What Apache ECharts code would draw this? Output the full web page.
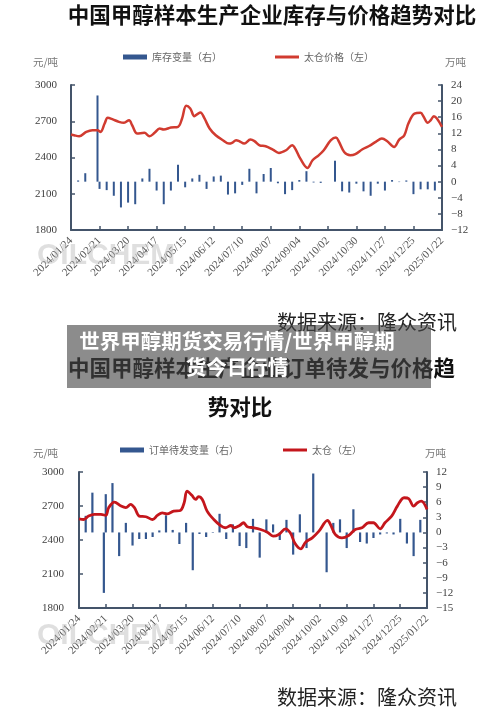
<!DOCTYPE html>
<html><head><meta charset="utf-8">
<script src="https://cdn.jsdelivr.net/npm/echarts@6/dist/echarts.min.js"></script>
<style>html,body{margin:0;padding:0;background:#fff}#c{width:500px;height:713px}</style>
</head><body><div id="c"></div>
<script>
// ---------- data (x = days since 2024/01/24) ----------
const startDate = [2024, 0, 24];
const axisMaxDay = 364, tickDays = 28;

const title1 = '中国甲醇样本生产企业库存与价格趋势对比';
const title2a = '中国甲醇样本生产企业订单待发与价格趋';
const title2b = '势对比';
const sourceText = '数据来源：隆众资讯';
const overlayLine1 = '世界甲醇期货交易行情/世界甲醇期';
const overlayLine2 = '货今日行情';

const stockName = '库存变量（右）';
const price1Name = '太仓价格（左）';
const orderName = '订单待发变量（右）';
const price2Name = '太仓（左）';

const weekDays = [7,14,26,28,35,42,49,56,63,70,77,84,91,98,105,112,119,126,133,140,147,154,161,168,175,182,189,196,203,210,217,224,231,238,245,259,266,273,280,287,294,301,308,315,322,329,336,343,350,357];
const stockChange = [0.3,2.1,21.4,-1.8,-2.1,-3.5,-6.4,-5.2,-5.6,0.8,3.2,-2.2,-5.6,-2.2,4.2,-1.4,0.8,1.7,-1.8,1.3,1.5,-3.2,-2.9,-0.8,3.2,-2.9,1.9,3.4,-0.4,-3.1,-2.1,0.4,2.6,-0.2,-0.3,5.2,-2.4,-2.7,-0.5,-2.4,-3.5,-0.5,-2.2,0.4,-0.1,0.3,-3.1,-1.9,-1.9,-2.2];
const orderChange = [3.3,7.9,-12.0,7.6,9.8,-4.7,1.9,-2.6,-1.3,-1.3,-0.9,0.4,3.4,0.5,-2.3,1.9,-7.5,-0.3,-0.9,-0.1,3.7,-1.3,1.6,-2.7,-3.1,2.7,-5.0,2.6,1.6,-1.5,2.5,-4.4,3.6,-3.1,11.7,-7.9,1.9,2.6,-3.1,4.6,-1.9,-2.2,-1.1,-0.4,-0.2,-0.4,2.7,-2.2,-4.7,2.5];

const price1Days = [0,3,8,15,21,26,29,33,36,41,47,52,57,60,65,72,77,82,87,91,98,105,109,113,117,121,124,127,131,136,142,149,155,158,162,165,170,176,180,185,191,198,204,211,217,220,225,232,237,243,248,255,260,263,268,274,279,286,292,299,305,310,317,322,327,331,337,343,346,350,353,356,359,364];
const price1 = [2590,2584,2576,2612,2626,2626,2612,2681,2728,2715,2695,2687,2709,2667,2598,2604,2576,2604,2640,2631,2648,2654,2723,2828,2806,2742,2759,2773,2723,2640,2584,2543,2515,2521,2543,2535,2515,2548,2535,2501,2493,2465,2438,2460,2501,2474,2390,2313,2377,2418,2460,2543,2565,2529,2446,2418,2427,2468,2493,2529,2557,2537,2487,2548,2584,2681,2764,2770,2737,2687,2709,2742,2723,2654];

const price2Days = [0,5,10,16,23,28,31,37,44,49,54,58,63,70,77,82,87,92,99,106,110,113,118,122,125,129,134,141,148,153,159,162,168,172,176,183,190,197,203,209,216,221,226,232,237,244,251,260,263,268,275,282,289,296,303,308,315,320,327,333,340,345,350,354,358,364];
const price2 = [2587,2581,2611,2626,2626,2617,2685,2735,2699,2685,2714,2685,2611,2605,2581,2617,2640,2631,2655,2661,2729,2832,2794,2758,2782,2758,2655,2581,2528,2508,2528,2508,2528,2552,2517,2508,2493,2469,2434,2449,2499,2463,2369,2322,2381,2419,2478,2573,2537,2449,2419,2440,2493,2508,2552,2552,2499,2552,2611,2699,2773,2764,2699,2729,2743,2670];

const leftTicks = {min: 1800, max: 3000, interval: 300};
const right1Ticks = {min: -12, max: 24, interval: 4};
const right2Ticks = {min: -15, max: 12, interval: 3};

// ---------- helpers ----------
const pair = (xs, ys) => xs.map((x, i) => [x, ys[i]]);
const pad = n => String(n).padStart(2, '0');
function fmtDate(v) {
  const t = new Date(Date.UTC(startDate[0], startDate[1], startDate[2]) + v * 86400000);
  return t.getUTCFullYear() + '/' + pad(t.getUTCMonth() + 1) + '/' + pad(t.getUTCDate());
}
const minus = v => String(v).replace('-', '−');
const axisColor = '#44546a';
const serif = 'Liberation Serif';
const cjk = 'Noto Sans CJK SC';

function xAx(g) {
  return {type: 'value', gridIndex: g, min: 0, max: axisMaxDay, interval: tickDays,
    axisLine: {show: true, onZero: false, lineStyle: {color: axisColor, width: 2}},
    axisTick: {show: true, inside: true, length: 4, lineStyle: {color: axisColor, width: 1.5}},
    splitLine: {show: false},
    axisLabel: {rotate: 45, margin: 9, fontFamily: serif, fontSize: 11, color: '#555', formatter: fmtDate, showMinLabel: true, showMaxLabel: true}};
}
function yAx(g, t, pos, margin) {
  return {type: 'value', gridIndex: g, position: pos, min: t.min, max: t.max, interval: t.interval,
    axisLine: {show: true, onZero: false, lineStyle: {color: axisColor, width: 2}},
    axisTick: {show: true, inside: true, length: 4, lineStyle: {color: axisColor, width: 1.5}},
    splitLine: {show: false},
    axisLabel: {margin: margin, fontFamily: serif, fontSize: 11, color: '#404040', formatter: minus}};
}
function legend(name, left, top, icon, h) {
  return {data: [name], left: left, top: top, padding: 0, icon: icon, itemWidth: 24, itemHeight: h,
    textStyle: {fontFamily: cjk, fontSize: 10, color: '#666'}, selectedMode: false};
}
function txt(text, x, y, size, opt) {
  return Object.assign({type: 'text', x: x, y: y, z: 10,
    style: Object.assign({text: text, fontFamily: cjk, fontSize: size, fill: '#111', textVerticalAlign: 'middle', textAlign: 'left'}, opt || {})});
}

const chart = echarts.init(document.getElementById('c'), null, {renderer: 'canvas'});
chart.setOption({
  animation: false,
  backgroundColor: '#fff',
  grid: [
    {left: 71, top: 85, width: 371, height: 145},
    {left: 79, top: 472, width: 348, height: 136}
  ],
  xAxis: [xAx(0), xAx(1)],
  yAxis: [yAx(0, leftTicks, 'left', 14), yAx(0, right1Ticks, 'right', 9),
          yAx(1, leftTicks, 'left', 15), yAx(1, right2Ticks, 'right', 9)],
  legend: [
    legend(stockName, 123, 52, 'rect', 5),
    legend(price1Name, 275, 52, 'rect', 3),
    legend(orderName, 120, 445, 'rect', 5),
    legend(price2Name, 283, 445, 'rect', 3)
  ],
  series: [
    {type: 'bar', name: stockName, xAxisIndex: 0, yAxisIndex: 1, data: pair(weekDays, stockChange), barWidth: 2, itemStyle: {color: '#34578f'}},
    {type: 'line', name: price1Name, xAxisIndex: 0, yAxisIndex: 0, data: pair(price1Days, price1), smooth: 0.35, symbol: 'none',
      lineStyle: {width: 2.5, color: '#d13b30'}, itemStyle: {color: '#d13b30'}},
    {type: 'bar', name: orderName, xAxisIndex: 1, yAxisIndex: 3, data: pair(weekDays, orderChange), barWidth: 2.2, itemStyle: {color: '#34578f'}},
    {type: 'line', name: price2Name, xAxisIndex: 1, yAxisIndex: 2, data: pair(price2Days, price2), smooth: 0.35, symbol: 'none',
      lineStyle: {width: 2.8, color: '#c4161c'}, itemStyle: {color: '#c4161c'}}
  ],
  graphic: [
    txt('OILCHEM', 37, 256, 30, {fontFamily: 'Liberation Sans', fontWeight: 'bold', fill: 'rgba(185,185,185,0.45)'}),
    txt('OILCHEM', 37, 636, 30, {fontFamily: 'Liberation Sans', fontWeight: 'bold', fill: 'rgba(185,185,185,0.45)'}),
    txt(title1, 272, 15, 21.5, {textAlign: 'center', fontWeight: 'bold'}),
    txt('元/吨', 33, 62, 10.5, {fill: '#777'}),
    txt('万吨', 445, 62, 10.5, {fill: '#777'}),
    txt(sourceText, 277, 322, 20, {fill: '#222'}),
    txt(title2a, 68, 368, 21.5, {fontWeight: 'bold'}),
    txt(title2b, 240, 407, 21.5, {textAlign: 'center', fontWeight: 'bold'}),
    txt('元/吨', 33, 453, 10.5, {fill: '#777'}),
    txt('万吨', 425, 453, 10.5, {fill: '#777'}),
    txt(sourceText, 277, 697, 20, {fill: '#222'}),
    {type: 'rect', z: 100, shape: {x: 67, y: 325, width: 364, height: 63}, style: {fill: 'rgba(70,70,70,0.62)'}},
    txt(overlayLine1, 237, 341, 20.5, {textAlign: 'center', fontWeight: 'bold', fill: '#fff'}),
    txt(overlayLine2, 237, 367, 20.5, {textAlign: 'center', fontWeight: 'bold', fill: '#fff'})
  ].map(g => (g.type === 'text' && g.style.fill === '#fff') ? Object.assign(g, {z: 101}) : g)
});
</script></body></html>
